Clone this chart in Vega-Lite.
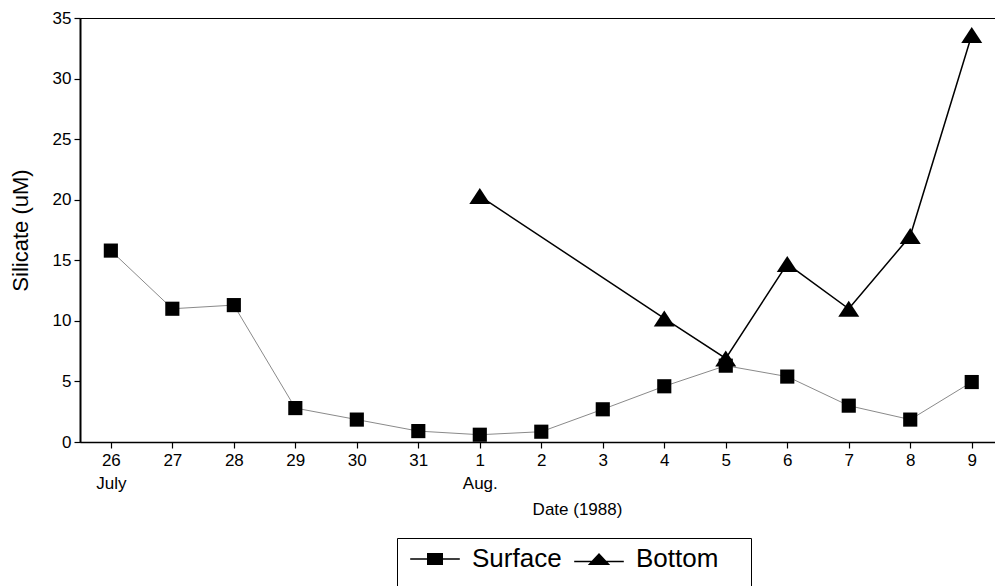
{
  "$schema": "https://vega.github.io/schema/vega-lite/v6.json",
  "width": 915,
  "height": 424,
  "autosize": {"type": "none"},
  "padding": {"left": 80, "top": 18, "right": 0, "bottom": 144},
  "background": "white",
  "config": {
    "font": "Liberation Sans",
    "view": {"stroke": "black", "strokeWidth": 1},
    "axis": {
      "domainColor": "black",
      "tickColor": "black",
      "labelColor": "black",
      "titleColor": "black",
      "grid": false,
      "labelFont": "Liberation Sans",
      "titleFont": "Liberation Sans",
      "labelFontSize": 17,
      "titleFontSize": 17,
      "titleFontWeight": "normal",
      "tickSize": 6,
      "tickWidth": 1.2,
      "domainWidth": 1.5
    }
  },
  "data": {
    "values": [
      {"day": "26", "series": "Surface", "value": 15.8},
      {"day": "27", "series": "Surface", "value": 11.0},
      {"day": "28", "series": "Surface", "value": 11.3},
      {"day": "29", "series": "Surface", "value": 2.8},
      {"day": "30", "series": "Surface", "value": 1.85},
      {"day": "31", "series": "Surface", "value": 0.9},
      {"day": "1", "series": "Surface", "value": 0.6},
      {"day": "2", "series": "Surface", "value": 0.85},
      {"day": "3", "series": "Surface", "value": 2.7},
      {"day": "4", "series": "Surface", "value": 4.6},
      {"day": "5", "series": "Surface", "value": 6.3},
      {"day": "6", "series": "Surface", "value": 5.4},
      {"day": "7", "series": "Surface", "value": 3.0},
      {"day": "8", "series": "Surface", "value": 1.85},
      {"day": "9", "series": "Surface", "value": 4.95},
      {"day": "1", "series": "Bottom", "value": 20.3},
      {"day": "4", "series": "Bottom", "value": 10.2},
      {"day": "5", "series": "Bottom", "value": 6.9},
      {"day": "6", "series": "Bottom", "value": 14.7},
      {"day": "7", "series": "Bottom", "value": 11.0},
      {"day": "8", "series": "Bottom", "value": 17.0},
      {"day": "9", "series": "Bottom", "value": 33.6}
    ]
  },
  "encoding": {
    "x": {
      "field": "day",
      "type": "ordinal",
      "scale": {
        "type": "point",
        "domain": ["26", "27", "28", "29", "30", "31", "1", "2", "3", "4", "5", "6", "7", "8", "9"],
        "padding": 0.44,
        "align": 0.57
      },
      "axis": {
        "title": "Date (1988)",
        "labelAngle": 0,
        "labelExpr": "datum.value == '26' ? ['26', 'July'] : (datum.value == '1' ? ['1', 'Aug.'] : datum.value)",
        "labelLineHeight": 23,
        "labelPadding": 4,
        "titleX": 497,
        "titleY": 67,
        "titleBaseline": "middle",
        "titleAnchor": "start",
        "titleAlign": "center"
      }
    },
    "y": {
      "field": "value",
      "type": "quantitative",
      "scale": {"domain": [0, 35], "nice": false},
      "axis": {
        "title": "Silicate (uM)",
        "values": [0, 5, 10, 15, 20, 25, 30, 35],
        "titleFontSize": 22,
        "titlePadding": 20,
        "domainWidth": 2,
        "labelPadding": 3
      }
    }
  },
  "layer": [
    {
      "transform": [{"filter": "datum.series == 'Surface'"}],
      "mark": {"type": "line", "color": "#8a8a8a", "strokeWidth": 1}
    },
    {
      "transform": [{"filter": "datum.series == 'Bottom'"}],
      "mark": {"type": "line", "color": "black", "strokeWidth": 1.5}
    },
    {
      "transform": [{"filter": "datum.series == 'Surface'"}],
      "mark": {"type": "point", "shape": "square", "filled": true, "color": "black", "size": 200, "opacity": 1}
    },
    {
      "transform": [{"filter": "datum.series == 'Bottom'"}],
      "mark": {"type": "point", "shape": "M-1,0.76L0,-0.76L1,0.76Z", "filled": true, "color": "black", "size": 441, "opacity": 1}
    },
    {
      "mark": {"type": "point", "opacity": 0, "filled": true, "color": "black"},
      "encoding": {
        "shape": {
          "field": "series",
          "type": "nominal",
          "scale": {
            "domain": ["Surface", "Bottom"],
            "range": ["M-3.1,-0.09H3.1V0.09H-3.1ZM-1,-0.75H1V0.75H-1Z", "M-3.1,0.22H3.1V0.4H-3.1ZM-1.4,0.75L0,-0.75L1.4,0.75Z"]
          },
          "legend": {
            "orient": "none",
            "legendX": 317,
            "legendY": 520,
            "direction": "horizontal",
            "title": " ",
            "titleOrient": "right",
            "titleFontSize": 60,
            "titlePadding": 25,
            "strokeColor": "black",
            "fillColor": "white",
            "padding": 8,
            "labelFont": "Liberation Sans",
            "labelFontSize": 26,
            "labelColor": "black",
            "symbolSize": 256,
            "symbolOffset": 17,
            "labelOffset": 24,
            "columnPadding": 7,
            "symbolFillColor": "black",
            "symbolOpacity": 1
          }
        }
      }
    }
  ]
}
